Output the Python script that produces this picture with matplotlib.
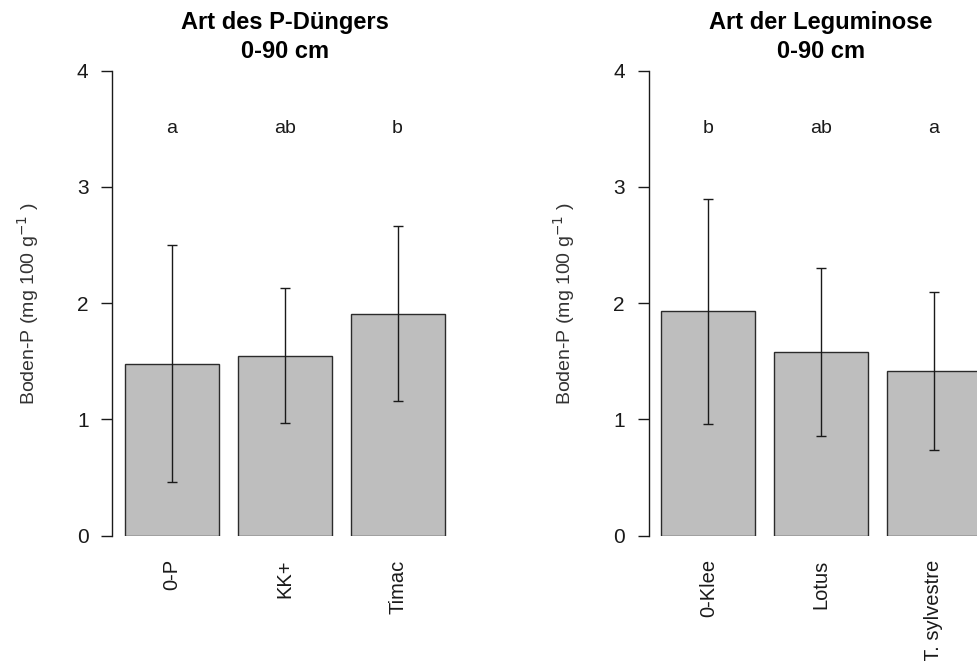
import matplotlib
matplotlib.use("Agg")
import matplotlib.pyplot as plt
import numpy as np

plt.rcParams['font.family'] = ['Liberation Sans', 'DejaVu Sans']

# Data
cat_left = ["0-P", "KK+", "Timac"]
mean_left = [1.48, 1.55, 1.91]
err_left = [1.02, 0.58, 0.75]
letters_left = ["a", "ab", "b"]
title_left = ["Art des P-Düngers", "0-90 cm"]

cat_right = ["0-Klee", "Lotus", "T. sylvestre"]
mean_right = [1.93, 1.58, 1.42]
err_right = [0.97, 0.72, 0.68]
letters_right = ["b", "ab", "a"]
title_right = ["Art der Leguminose", "0-90 cm"]

ylabel = "Boden-P (mg 100 g$^{-1}$ )"
yticks = [0, 1, 2, 3, 4]
letter_y = 3.5

W, H = 978, 661
fig = plt.figure(figsize=(W / 100, H / 100), dpi=100)

txtc = "#1a1a1a"

def panel(left_px, cats, means, errs, letters, title):
    width_px = 345.2
    ax = fig.add_axes([left_px / W, 125.3 / H, width_px / W, 465.0 / H])
    x = 0.2 + np.arange(len(cats)) * 1.2 + 0.5
    ax.bar(x, means, width=1.0, color="#bebebe", edgecolor="#2b2b2b", linewidth=1.0, zorder=2)
    ax.errorbar(x, means, yerr=errs, fmt="none", ecolor="#1a1a1a", elinewidth=1.0,
                capsize=3.3, capthick=1.0, zorder=3)
    for xi, l in zip(x, letters):
        ax.text(xi, letter_y, l, ha="center", va="center", fontsize=14, color=txtc)
    ax.set_xlim(0.064, 3.736)
    ax.set_ylim(0, 4)
    ax.set_yticks(yticks)
    ax.set_yticklabels([str(t) for t in yticks])
    ax.set_xticks(x)
    ax.set_xticklabels(cats, rotation=90, va="top", ha="center")
    ax.tick_params(axis="x", length=0, pad=17, labelsize=14.5, labelcolor=txtc)
    ax.tick_params(axis="y", length=8, width=1.0, pad=9, labelsize=15, labelcolor=txtc, color="#1a1a1a")
    for s in ["top", "right", "bottom"]:
        ax.spines[s].set_visible(False)
    ax.spines["left"].set_bounds(0, 4)
    ax.spines["left"].set_linewidth(1.0)
    ax.spines["left"].set_color("#1a1a1a")
    ax.set_ylabel(ylabel, fontsize=14, color="#333333", labelpad=26)
    xc = (left_px + width_px / 2) / W
    fig.text(xc, 1 - 22 / H, title[0], ha="center", va="center", fontsize=17,
             fontweight="bold", color="#000000")
    fig.text(xc, 1 - 51 / H, title[1], ha="center", va="center", fontsize=17,
             fontweight="bold", color="#000000")
    return ax

panel(112.2, cat_left, mean_left, err_left, letters_left, title_left)
panel(648.5, cat_right, mean_right, err_right, letters_right, title_right)

fig.savefig("out.png", dpi=100)
